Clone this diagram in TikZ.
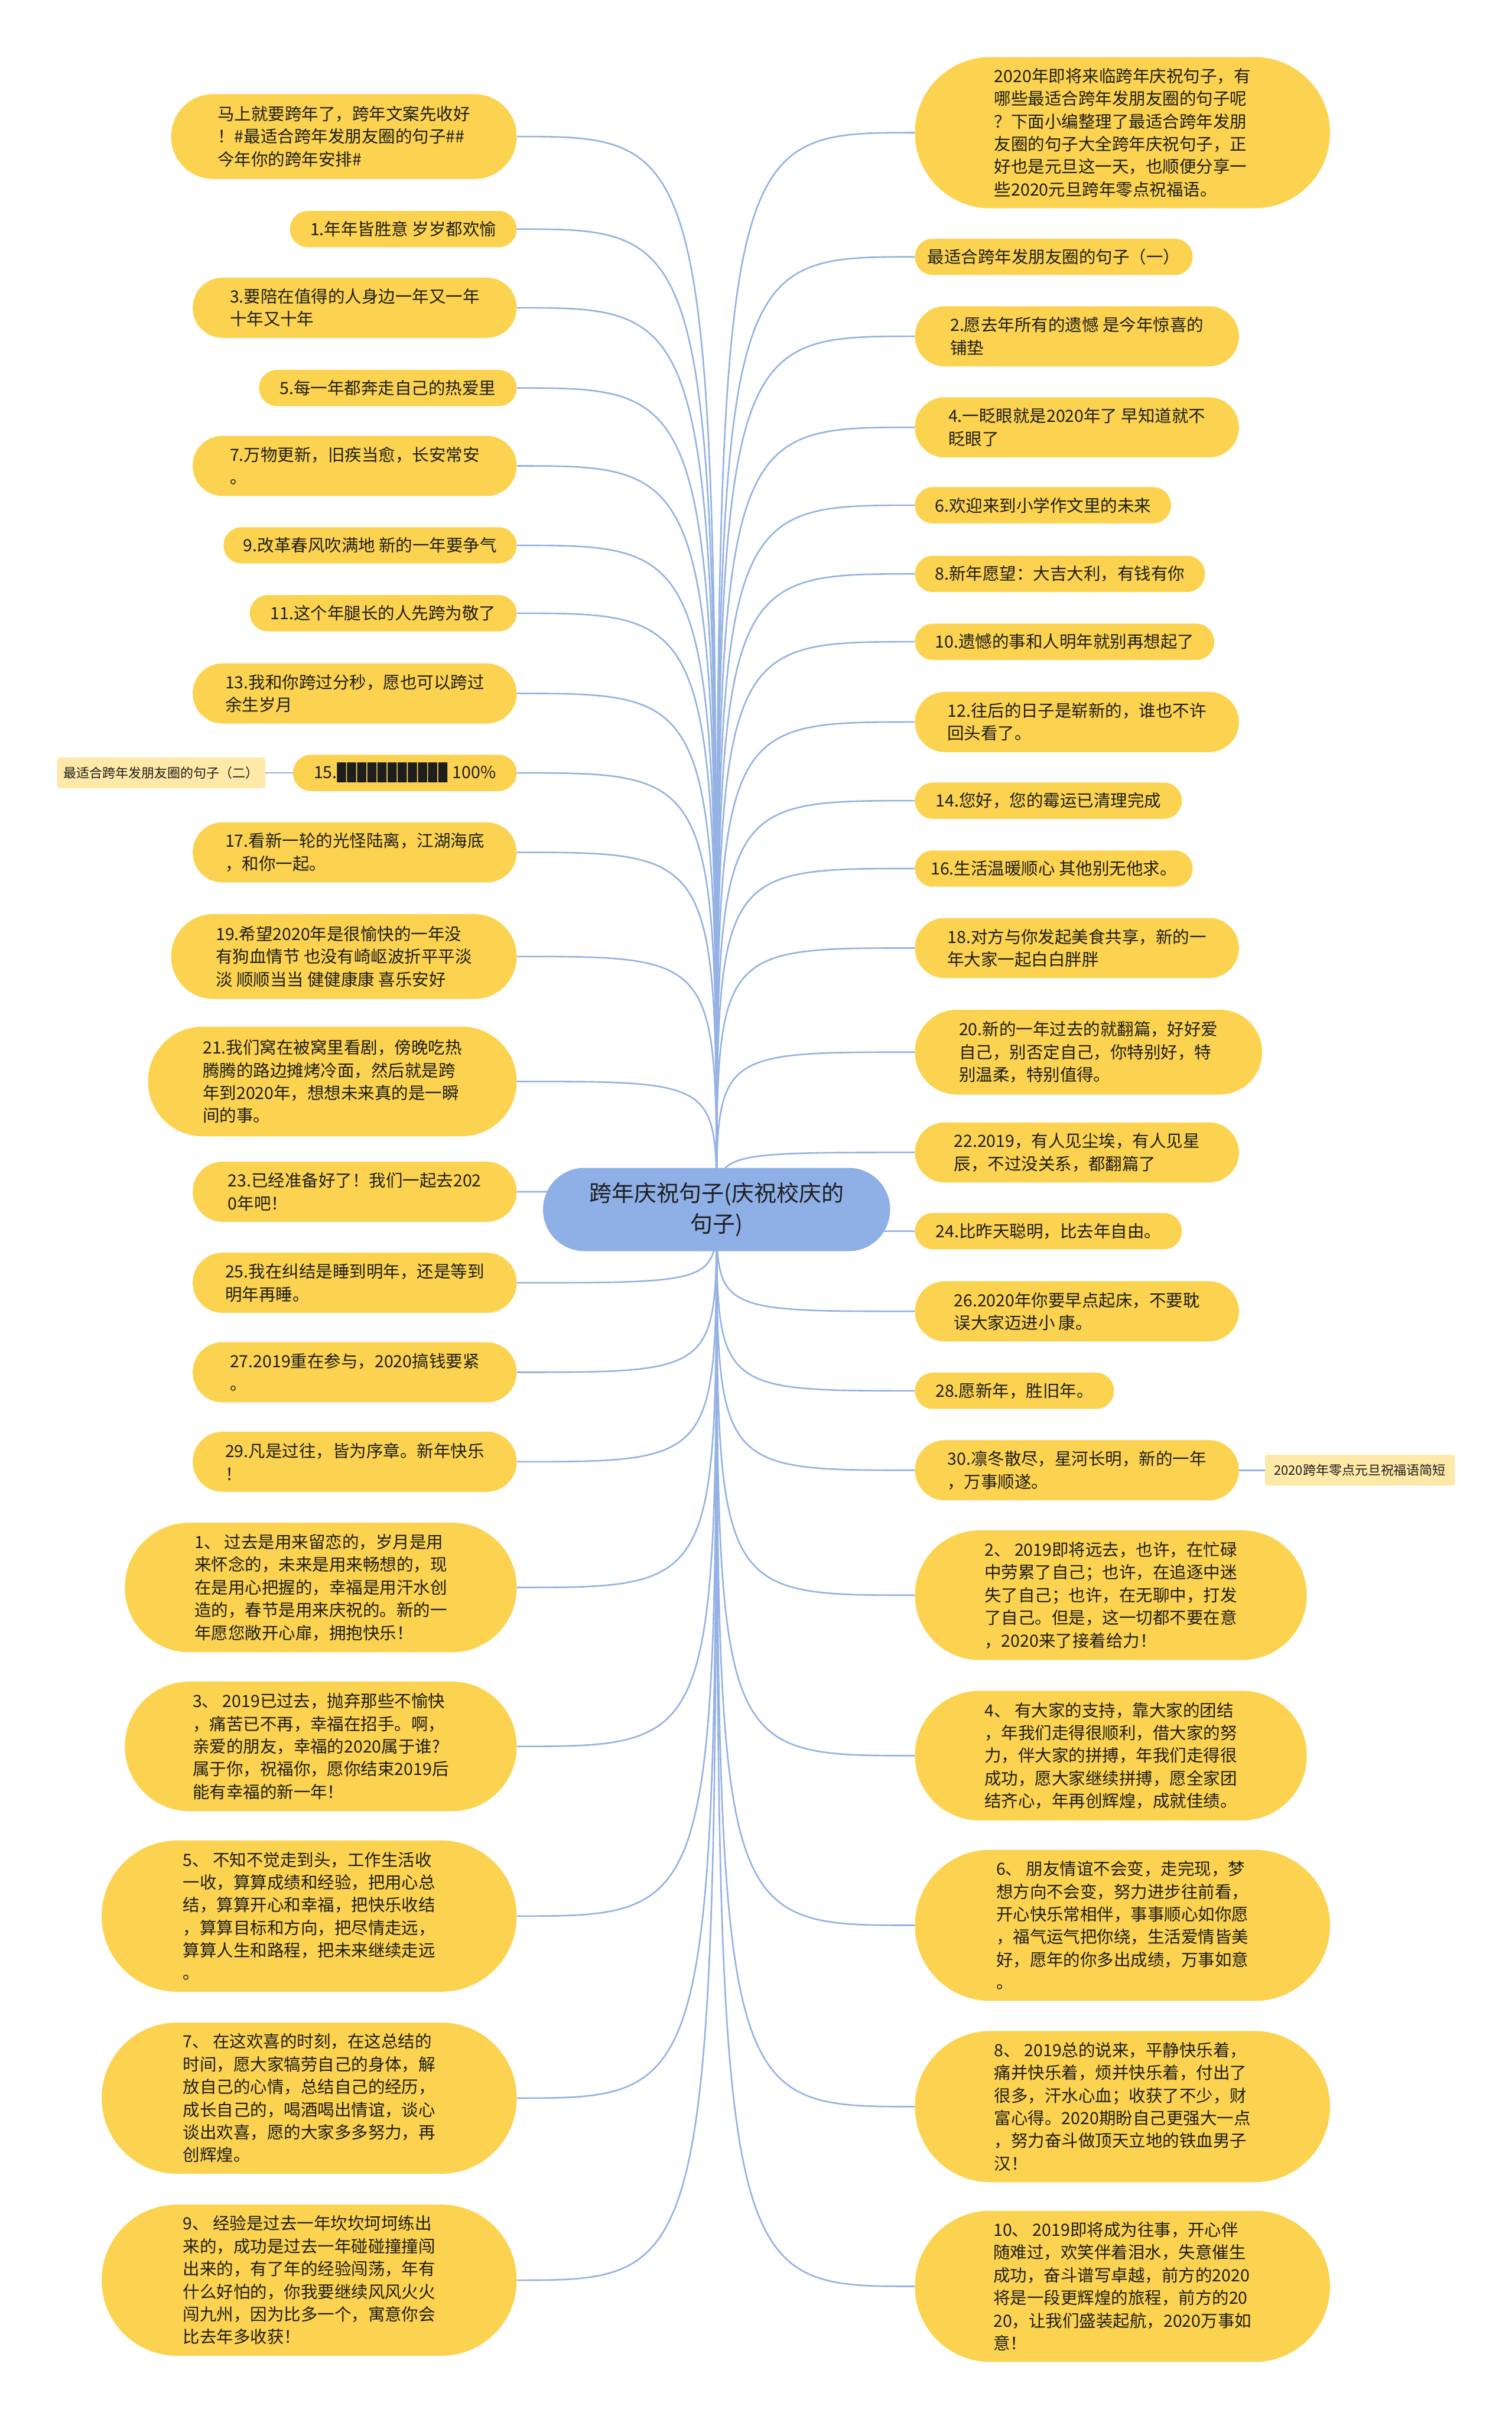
\documentclass[tikz,border=0pt]{standalone}
\usepackage{fontspec}
\setmainfont{Noto Sans CJK SC}
\newfontfamily\blockfont{DejaVu Sans Mono}
\usetikzlibrary{backgrounds,calc}
\definecolor{leafyellow}{RGB}{252,211,80}
\definecolor{paleyellow}{RGB}{254,233,168}
\definecolor{linkblue}{RGB}{148,178,228}
\definecolor{rootblue}{RGB}{142,176,230}
\definecolor{txtdark}{RGB}{30,30,30}
\newdimen\UU \UU=2.612pt
\newcommand\leaffont{\fontsize{28.5}{38.4}\selectfont}
\newcommand\rootfont{\fontsize{38}{52}\selectfont}
\newcommand\tagfont{\fontsize{22}{28}\selectfont}
\tikzset{
  leaf/.style 2 args={fill=leafyellow, text=txtdark, font=\leaffont, align=left, inner sep=0pt,
    minimum width=#1*\UU, minimum height=#2*\UU, rounded corners=#2*0.5*\UU-0.3pt},
  tag/.style 2 args={fill=paleyellow, text=txtdark, font=\tagfont, align=left, inner sep=0pt,
    minimum width=#1*\UU, minimum height=#2*\UU, rounded corners=4pt},
  root/.style={fill=rootblue, text=txtdark, font=\rootfont, align=center, inner sep=0pt,
    minimum width=225*\UU, minimum height=54*\UU, rounded corners=27*\UU-0.3pt},
  conn/.style={draw=linkblue, line width=2.6pt},
  lft/.style={anchor=east},
  rgt/.style={anchor=west}
}
\begin{document}
\begin{tikzpicture}[x=2.612pt,y=-2.612pt]
\useasboundingbox (0,0) rectangle (980,1568);
% root
\node[root] (c) at (464.5,784) {跨年庆祝句子(庆祝校庆的\\句子)};
% left branch
\node[leaf={224}{55},lft] (L0) at (335,88.5) {马上就要跨年了，跨年文案先收好\\！\#最适合跨年发朋友圈的句子\#\#\\今年你的跨年安排\#};
\node[leaf={147}{23.5},lft] (L1) at (335,148.5) {1.年年皆胜意 岁岁都欢愉};
\node[leaf={210}{39},lft] (L2) at (335,199.5) {3.要陪在值得的人身边一年又一年\\十年又十年};
\node[leaf={167}{23.5},lft] (L3) at (335,251.5) {5.每一年都奔走自己的热爱里};
\node[leaf={210}{39},lft] (L4) at (335,302) {7.万物更新，旧疾当愈，长安常安\\。};
\node[leaf={190}{23.5},lft] (L5) at (335,353.5) {9.改革春风吹满地 新的一年要争气};
\node[leaf={173}{23.5},lft] (L6) at (335,397.5) {11.这个年腿长的人先跨为敬了};
\node[leaf={210}{39},lft] (L7) at (335,449.5) {13.我和你跨过分秒，愿也可以跨过\\余生岁月};
\node[leaf={145}{23.5},lft] (L8) at (335,501) {15.{\blockfont ▉▉▉▉▉▉▉▉▉▉▉} 100\%};
\node[leaf={210}{39},lft] (L9) at (335,552.5) {17.看新一轮的光怪陆离，江湖海底\\，和你一起。};
\node[leaf={224}{55},lft] (L10) at (335,620) {19.希望2020年是很愉快的一年没\\有狗血情节 也没有崎岖波折平平淡\\淡 顺顺当当 健健康康 喜乐安好};
\node[leaf={239}{71},lft] (L11) at (335,701) {21.我们窝在被窝里看剧，傍晚吃热\\腾腾的路边摊烤冷面，然后就是跨\\年到2020年，想想未来真的是一瞬\\间的事。};
\node[leaf={210}{39},lft] (L12) at (335,772.5) {23.已经准备好了！我们一起去202\\0年吧！};
\node[leaf={210}{39},lft] (L13) at (335,831.5) {25.我在纠结是睡到明年，还是等到\\明年再睡。};
\node[leaf={210}{39},lft] (L14) at (335,889.5) {27.2019重在参与，2020搞钱要紧\\。};
\node[leaf={210}{39},lft] (L15) at (335,947.5) {29.凡是过往，皆为序章。新年快乐\\！};
\node[leaf={254}{84},lft] (L16) at (335,1029) {1、 过去是用来留恋的，岁月是用\\来怀念的，未来是用来畅想的，现\\在是用心把握的，幸福是用汗水创\\造的，春节是用来庆祝的。新的一\\年愿您敞开心扉，拥抱快乐！};
\node[leaf={254}{84},lft] (L17) at (335,1132) {3、 2019已过去，抛弃那些不愉快\\，痛苦已不再，幸福在招手。啊，\\亲爱的朋友，幸福的2020属于谁?\\属于你，祝福你，愿你结束2019后\\能有幸福的新一年！};
\node[leaf={269}{98},lft] (L18) at (335,1242) {5、 不知不觉走到头，工作生活收\\一收，算算成绩和经验，把用心总\\结，算算开心和幸福，把快乐收结\\，算算目标和方向，把尽情走远，\\算算人生和路程，把未来继续走远\\。};
\node[leaf={269}{98},lft] (L19) at (335,1360) {7、 在这欢喜的时刻，在这总结的\\时间，愿大家犒劳自己的身体，解\\放自己的心情，总结自己的经历，\\成长自己的，喝酒喝出情谊，谈心\\谈出欢喜，愿的大家多多努力，再\\创辉煌。};
\node[leaf={269}{98},lft] (L20) at (335,1478) {9、 经验是过去一年坎坎坷坷练出\\来的，成功是过去一年碰碰撞撞闯\\出来的，有了年的经验闯荡，年有\\什么好怕的，你我要继续风风火火\\闯九州，因为比多一个，寓意你会\\比去年多收获！};
% right branch
\node[leaf={269}{98},rgt] (R0) at (593,86) {2020年即将来临跨年庆祝句子，有\\哪些最适合跨年发朋友圈的句子呢\\？下面小编整理了最适合跨年发朋\\友圈的句子大全跨年庆祝句子，正\\好也是元旦这一天，也顺便分享一\\些2020元旦跨年零点祝福语。};
\node[leaf={180}{23.5},rgt] (R1) at (593,166.5) {最适合跨年发朋友圈的句子（一）};
\node[leaf={210}{39},rgt] (R2) at (593,218) {2.愿去年所有的遗憾 是今年惊喜的\\铺垫};
\node[leaf={210}{39},rgt] (R3) at (593,277) {4.一眨眼就是2020年了 早知道就不\\眨眼了};
\node[leaf={166}{23.5},rgt] (R4) at (593,327.5) {6.欢迎来到小学作文里的未来};
\node[leaf={188}{23.5},rgt] (R5) at (593,372) {8.新年愿望：大吉大利，有钱有你};
\node[leaf={194}{23.5},rgt] (R6) at (593,416) {10.遗憾的事和人明年就别再想起了};
\node[leaf={210}{39},rgt] (R7) at (593,468) {12.往后的日子是崭新的，谁也不许\\回头看了。};
\node[leaf={173}{23.5},rgt] (R8) at (593,519) {14.您好，您的霉运已清理完成};
\node[leaf={180}{23.5},rgt] (R9) at (593,563) {16.生活温暖顺心 其他别无他求。};
\node[leaf={210}{39},rgt] (R10) at (593,614.5) {18.对方与你发起美食共享，新的一\\年大家一起白白胖胖};
\node[leaf={225}{55},rgt] (R11) at (593,682) {20.新的一年过去的就翻篇，好好爱\\自己，别否定自己，你特别好，特\\别温柔，特别值得。};
\node[leaf={210}{39},rgt] (R12) at (593,747) {22.2019，有人见尘埃，有人见星\\辰，不过没关系，都翻篇了};
\node[leaf={173}{23.5},rgt] (R13) at (593,798) {24.比昨天聪明，比去年自由。};
\node[leaf={210}{39},rgt] (R14) at (593,850) {26.2020年你要早点起床，不要耽\\误大家迈进小 康。};
\node[leaf={129}{23.5},rgt] (R15) at (593,901.5) {28.愿新年，胜旧年。};
\node[leaf={210}{39},rgt] (R16) at (593,953) {30.凛冬散尽，星河长明，新的一年\\，万事顺遂。};
\node[leaf={254}{84},rgt] (R17) at (593,1034) {2、 2019即将远去，也许，在忙碌\\中劳累了自己；也许，在追逐中迷\\失了自己；也许，在无聊中，打发\\了自己。但是，这一切都不要在意\\，2020来了接着给力！};
\node[leaf={254}{84},rgt] (R18) at (593,1138) {4、 有大家的支持，靠大家的团结\\，年我们走得很顺利，借大家的努\\力，伴大家的拼搏，年我们走得很\\成功，愿大家继续拼搏，愿全家团\\结齐心，年再创辉煌，成就佳绩。};
\node[leaf={269}{98},rgt] (R19) at (593,1248) {6、 朋友情谊不会变，走完现，梦\\想方向不会变，努力进步往前看，\\开心快乐常相伴，事事顺心如你愿\\，福气运气把你绕，生活爱情皆美\\好，愿年的你多出成绩，万事如意\\。};
\node[leaf={269}{98},rgt] (R20) at (593,1365.5) {8、 2019总的说来，平静快乐着，\\痛并快乐着，烦并快乐着，付出了\\很多，汗水心血；收获了不少，财\\富心得。2020期盼自己更强大一点\\，努力奋斗做顶天立地的铁血男子\\汉！};
\node[leaf={269}{98},rgt] (R21) at (593,1482) {10、 2019即将成为往事，开心伴\\随难过，欢笑伴着泪水，失意催生\\成功，奋斗谱写卓越，前方的2020\\将是一段更辉煌的旅程，前方的20\\20，让我们盛装起航，2020万事如\\意！};
% side tags
\node[tag={135}{20}] (S1) at (104.5,501) {最适合跨年发朋友圈的句子（二）};
\node[tag={123}{20}] (S2) at (881.5,953) {2020跨年零点元旦祝福语简短};
% connectors
\begin{scope}[on background layer]
\fill[white] (0,0) rectangle (980,1568);
\foreach \i in {0,...,20}
  \draw[conn] (c.center) .. controls (c.center |- L\i.east) .. (L\i.east);
\foreach \i in {0,...,21}
  \draw[conn] (c.center) .. controls (c.center |- R\i.west) .. (R\i.west);
\draw[conn] (L8.west) -- (S1.east);
\draw[conn] (R16.east) -- (S2.west);
\end{scope}
\end{tikzpicture}
\end{document}
